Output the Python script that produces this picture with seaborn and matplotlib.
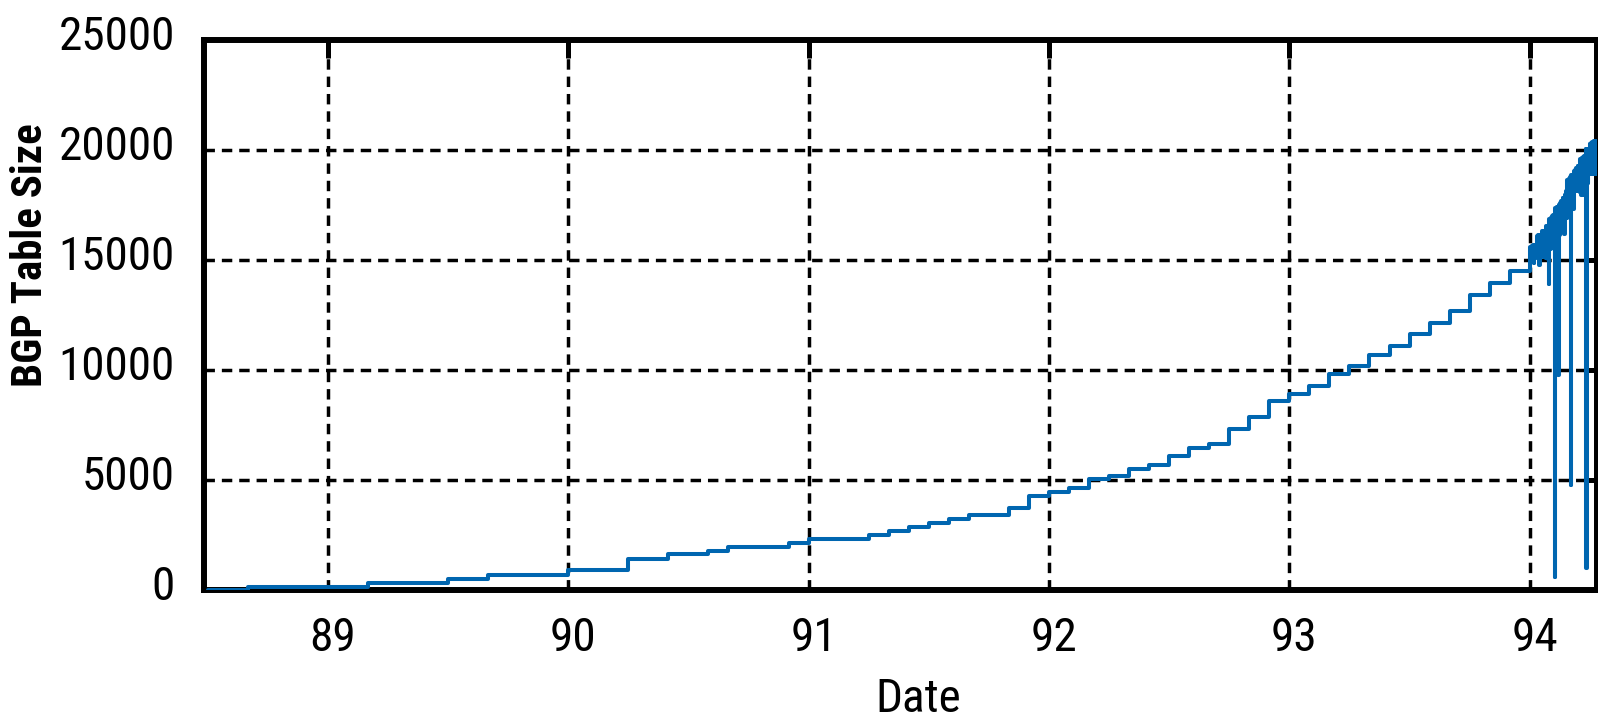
import numpy as np
import pandas as pd
import matplotlib
matplotlib.use('Agg')
import matplotlib.pyplot as plt
import matplotlib.transforms as mtransforms
from matplotlib import font_manager
import seaborn as sns

# Monthly BGP table size (step changes), 1988-07 .. 1993-12
step_months = ['88-07', '88-09', '89-03', '89-07', '89-09', '90-01', '90-04', '90-06',
               '90-08', '90-09', '90-12', '91-01', '91-04', '91-05', '91-06', '91-07',
               '91-08', '91-09', '91-11', '91-12', '92-01', '92-02', '92-03', '92-04',
               '92-05', '92-06', '92-07', '92-08', '92-09', '92-10', '92-11', '92-12',
               '93-01', '93-02', '93-03', '93-04', '93-05', '93-06', '93-07', '93-08',
               '93-09', '93-10', '93-11', '93-12']
step_values = [0, 150, 335, 520, 700, 885, 1430, 1620,
               1775, 1942, 2125, 2310, 2493, 2676, 2858, 3041,
               3225, 3408, 3730, 4280, 4463, 4647, 5050, 5170,
               5520, 5700, 6070, 6436, 6620, 7307, 7858, 8592,
               8913, 9280, 9830, 10197, 10700, 11087, 11620, 12140,
               12690, 13410, 13960, 14480]

# Daily samples from 1 Jan 1994 onwards
daily_values = [15100, 15600, 14900, 15650, 15000, 15700, 14850, 15600, 15100, 15700,
                15200, 16100, 15150, 16150, 14750, 16100, 15300, 16150, 15200, 16300,
                15150, 16330, 15300, 16300, 15100, 16550, 15200, 16500, 15050, 13890,
                16850, 15500, 16900, 15600, 17000, 15550, 17060, 15700, 610, 17350,
                16100, 17400, 16200, 9785, 17500, 16150, 17580, 16900, 17700, 17000,
                17800, 16950, 16180, 17950, 17000, 18120, 16900, 18650, 17300, 18700,
                17280, 18750, 4770, 18840, 17400, 18800, 17300, 19040, 18150, 19100,
                18120, 19200, 18200, 19270, 18150, 19250, 18100, 19590, 17970, 19650,
                18000, 19700, 17970, 19720, 18100, 20030, 995, 20000, 18500, 20030,
                18900, 20260, 18950, 20300, 18890, 20350, 18900, 20400, 18950, 20410,
                18890, 20400]

x_ticks = [89, 90, 91, 92, 93, 94]
y_ticks = [0, 5000, 10000, 15000, 20000, 25000]

step_dates = [int(m[:2]) + (int(m[3:]) - 1) / 12 for m in step_months]
daily_dates = [94 + d / 365 for d in range(len(daily_values))]

df = pd.DataFrame({'date': step_dates + daily_dates,
                   'size': step_values + daily_values})

sns.set_style('white')

# pick a narrow/condensed sans if one is installed
fonts = font_manager.fontManager.ttflist
names = {f.name for f in fonts}
stretch = 'normal'
font = 'DejaVu Sans'
tick_size = 29
for cand in ['Liberation Sans Narrow', 'Roboto Condensed', 'Open Sans Condensed',
             'Noto Sans Condensed', 'Noto Sans ExtraCondensed']:
    if cand in names:
        font = cand
        tick_size = 34
        break
else:
    if any(f.name == 'DejaVu Sans' and f.stretch in ('condensed', 'semi-condensed', 600, 700) for f in fonts):
        stretch = 'condensed'
        tick_size = 31
plt.rcParams['font.family'] = [font, 'DejaVu Sans']
plt.rcParams['font.stretch'] = stretch

fig = plt.figure(figsize=(15.98, 7.2), dpi=100)
ax = fig.add_axes([0.1277, 0.1806, 0.8717, 0.7639])

sns.lineplot(data=df, x='date', y='size', ax=ax, color='#0066b0', zorder=3,
             linewidth=2.9, drawstyle='steps-post', estimator=None, sort=False)

ax.set_xlim(88.485, 94.28)
ax.set_ylim(0, 25000)
ax.set_xticks(x_ticks)
ax.set_xticklabels([str(t) for t in x_ticks])
ax.set_yticks(y_ticks)
ax.set_yticklabels([str(t) for t in y_ticks])

ax.grid(True, color='black', linestyle=(0, (3, 2.0)), linewidth=2.5)
for s in ax.spines.values():
    s.set_color('black')
    s.set_linewidth(4.3)

ax.tick_params(axis='both', direction='in', color='black', labelcolor='black',
               labelsize=tick_size, top=True, right=True, width=3.6)
ax.tick_params(axis='x', pad=19, length=13)
ax.tick_params(axis='y', pad=21, length=8)

# y tick labels sit slightly above their grid lines in the original
shift = mtransforms.ScaledTranslation(0, 7 / 100, fig.dpi_scale_trans)
for lab in ax.get_yticklabels():
    lab.set_transform(lab.get_transform() + shift)
shift_x = mtransforms.ScaledTranslation(5 / 100, 0, fig.dpi_scale_trans)
for lab in ax.get_xticklabels():
    lab.set_transform(lab.get_transform() + shift_x)

ax.set_xlabel('Date', fontsize=tick_size, color='black')
ax.xaxis.set_label_coords(0.513, -0.158)
ax.set_ylabel('BGP Table Size', fontsize=31, fontweight='bold', color='black')
ax.yaxis.set_label_coords(-0.110, 0.609)

plt.savefig('out.png', dpi=100)
